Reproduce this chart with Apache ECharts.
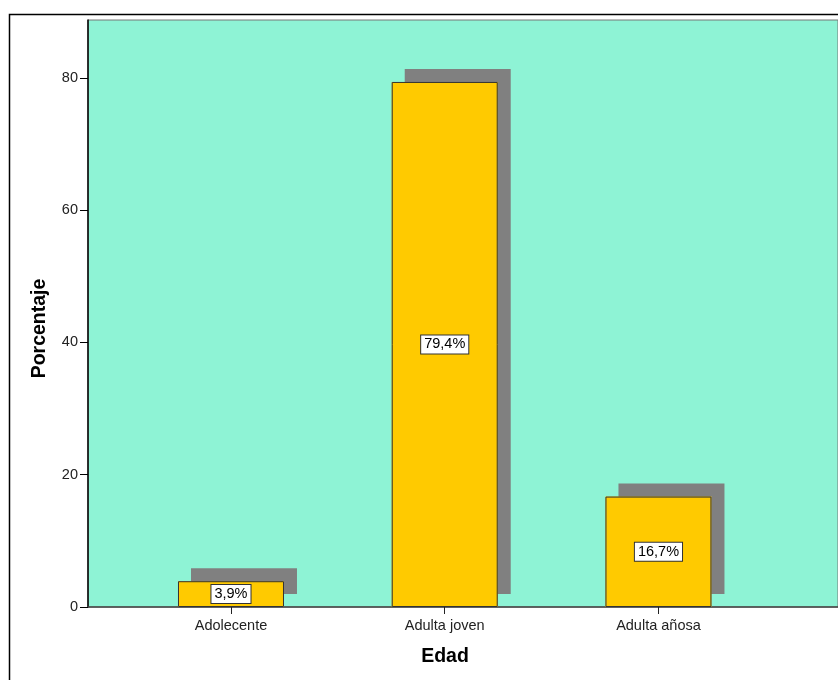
<!DOCTYPE html>
<html>
<head>
<meta charset="utf-8">
<script src="https://cdn.jsdelivr.net/npm/echarts@6/dist/echarts.min.js"></script>
<style>
html,body{margin:0;padding:0;background:#fff;}
#chart{width:838px;height:680px;}
</style>
</head>
<body>
<div id="chart"></div>
<script>
const categories = ['Adolecente', 'Adulta joven', 'Adulta añosa'];
const values = [3.9, 79.4, 16.7];
const yTicks = [0, 20, 40, 60, 80];

const chart = echarts.init(document.getElementById('chart'), null, {renderer: 'canvas'});
const font = '"Liberation Sans", Arial, sans-serif';
const barData = values.map((v, i) => [i, v]);

chart.setOption({
  animation: false,
  backgroundColor: '#ffffff',
  graphic: [{
    type: 'rect', silent: true, z: 100,
    shape: {x: 9.5, y: 14.5, width: 900, height: 700},
    style: {fill: 'none', stroke: '#000', lineWidth: 1.5}
  }],
  grid: {
    left: 88, right: 0, top: 20, bottom: 73,
    show: true, backgroundColor: '#8ef3d5', borderColor: '#777', borderWidth: 1
  },
  xAxis: {
    type: 'value',
    min: -0.669, max: 2.84,
    name: 'Edad', nameLocation: 'middle', nameGap: 40,
    nameTextStyle: {fontFamily: font, fontSize: 19.5, fontWeight: 'bold', color: '#000', padding: [0, 36, 0, 0]},
    axisLine: {show: true, onZero: false, lineStyle: {color: '#444', width: 1.5}},
    axisTick: {show: true, customValues: [0, 1, 2], length: 7, lineStyle: {color: '#222'}},
    axisLabel: {
      customValues: [0, 1, 2], margin: 11,
      formatter: v => categories[Math.round(v)] || '',
      fontFamily: font, fontSize: 14.5, color: '#222'
    },
    splitLine: {show: false}
  },
  yAxis: {
    type: 'value',
    min: 0, max: 88.77, interval: 20,
    name: 'Porcentaje', nameLocation: 'middle', nameGap: 38,
    nameTextStyle: {fontFamily: font, fontSize: 19.5, fontWeight: 'bold', color: '#000', padding: [0, 30, 0, 0]},
    axisLine: {show: true, onZero: false, lineStyle: {color: '#000', width: 1.5}},
    axisTick: {show: true, length: 8, lineStyle: {color: '#000'}},
    axisLabel: {
      showMaxLabel: false, margin: 10,
      formatter: v => yTicks.includes(v) ? String(v) : '',
      fontFamily: font, fontSize: 14.5, color: '#222'
    },
    splitLine: {show: false}
  },
  series: [{
    type: 'bar',
    silent: true,
    barWidth: 106,
    barGap: '-100%',
    data: barData,
    itemStyle: {
      color: '#ffca00', borderWidth: 0,
      shadowColor: '#808080', shadowBlur: 0, shadowOffsetX: 13, shadowOffsetY: -13
    }
  }, {
    type: 'bar',
    silent: true,
    barWidth: 106,
    barGap: '-100%',
    data: barData,
    itemStyle: {color: 'rgba(0,0,0,0)', borderColor: '#333', borderWidth: 1},
    label: {
      show: true, position: 'inside',
      formatter: p => p.value[1].toFixed(1).replace('.', ',') + '%',
      fontFamily: font, fontSize: 14.5, color: '#000',
      backgroundColor: '#fff', borderColor: '#333', borderWidth: 1, padding: [2, 3, 1, 3]
    }
  }]
});
</script>
</body>
</html>
